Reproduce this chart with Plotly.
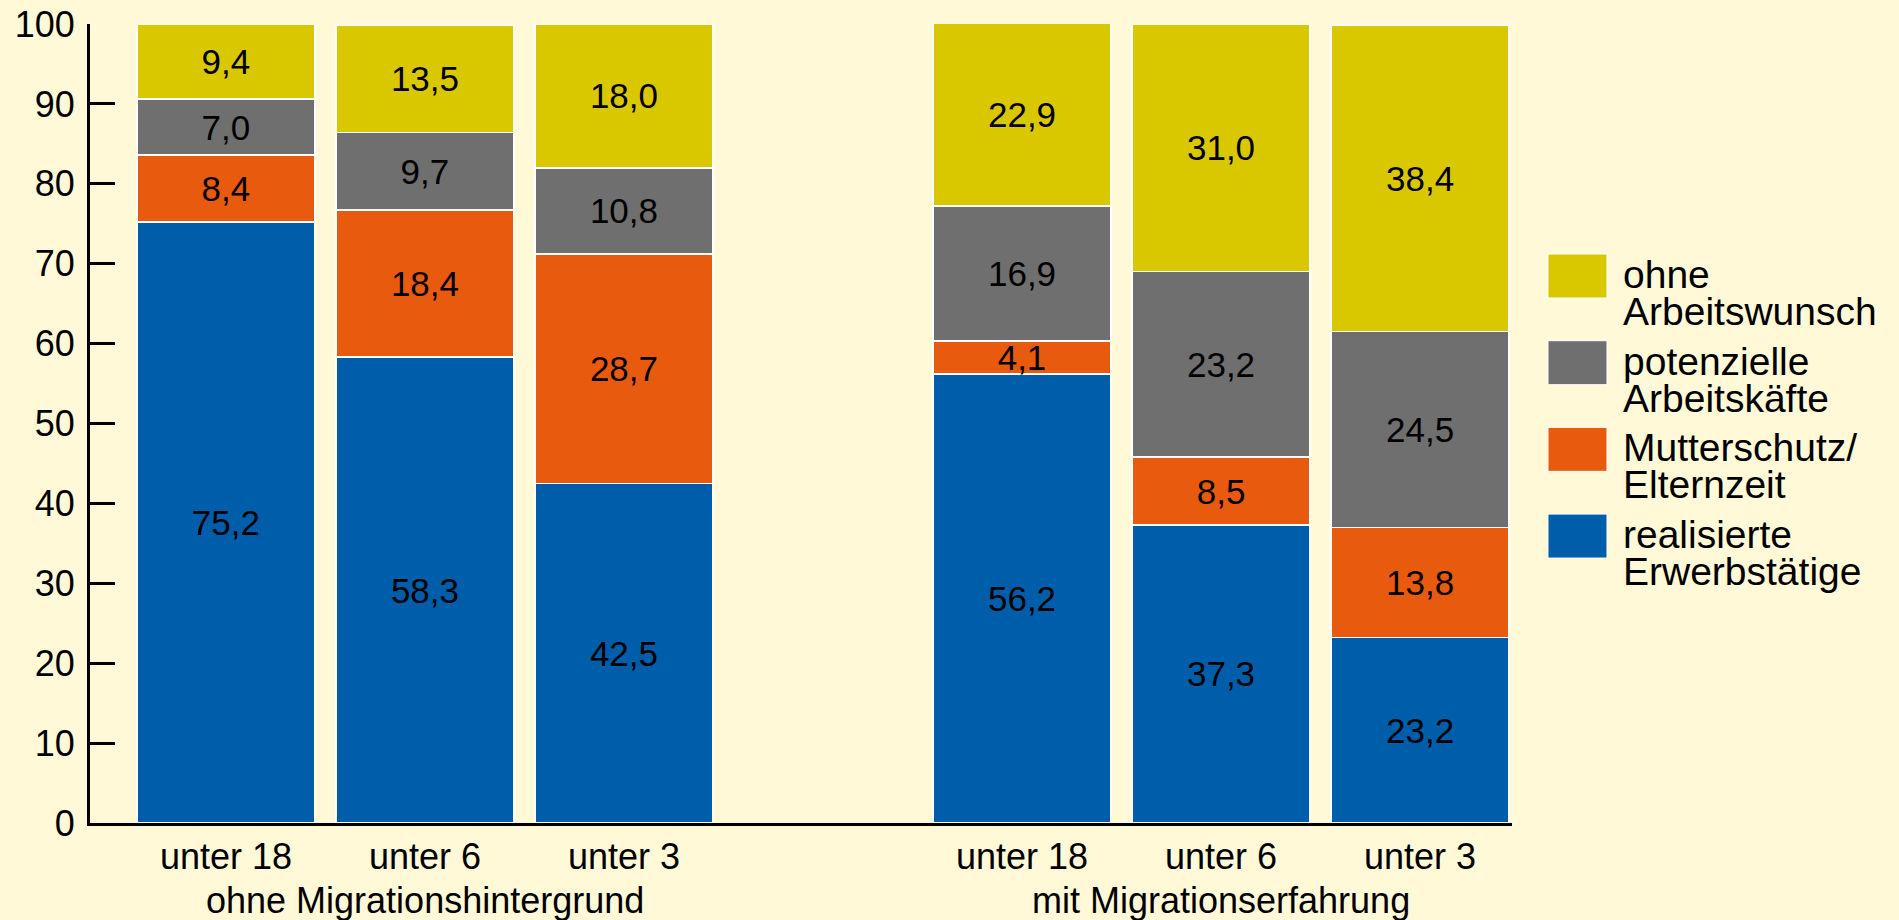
import plotly.graph_objects as go

# Anteile in Prozent (Mütter mit jüngstem Kind ...)
groups = ["ohne Migrationshintergrund", "mit Migrationserfahrung"]
ages = ["unter 18", "unter 6", "unter 3"]

erwerbstaetige = [75.2, 58.3, 42.5, 56.2, 37.3, 23.2]
mutterschutz = [8.4, 18.4, 28.7, 4.1, 8.5, 13.8]
potenzielle = [7.0, 9.7, 10.8, 16.9, 23.2, 24.5]
ohne_wunsch = [9.4, 13.5, 18.0, 22.9, 31.0, 38.4]

legend_names = [
    ["realisierte", "Erwerbstätige"],
    ["Mutterschutz/", "Elternzeit"],
    ["potenzielle", "Arbeitskäfte"],
    ["ohne", "Arbeitswunsch"],
]
colors = ["#005da9", "#e85b0e", "#6f6f6f", "#d9c800"]

FONT = "Liberation Sans, Arial, sans-serif"
BG = "#fff9d8"

# bar slots: three per group, one empty slot between groups
xs = []
ticktext = []
for g, group in enumerate(groups):
    for a, age in enumerate(ages):
        xs.append(g * 4 + a)
        ticktext.append(age)

fig = go.Figure()
for vals, names, col in zip([erwerbstaetige, mutterschutz, potenzielle, ohne_wunsch],
                            legend_names, colors):
    fig.add_trace(go.Bar(
        x=xs, y=vals, name=" ".join(names),
        marker=dict(color=col, line=dict(color="white", width=1.5)),
        texttemplate="%{y:.1f}", textposition="inside",
        insidetextanchor="middle", constraintext="none",
        textfont=dict(family=FONT, size=35, color="black"),
        width=0.894, showlegend=False,
    ))

annotations = []
# group labels under the middle bar of each group
for g, group in enumerate(groups):
    annotations.append(dict(xref="x", yref="paper", x=g * 4 + 1, y=-0.097,
                            xanchor="center", yanchor="middle", text=group,
                            showarrow=False, font=dict(family=FONT, size=36)))

# hand-made legend (large swatches, tight two-line labels)
shapes = []
for k, (names, col) in enumerate(reversed(list(zip(legend_names, colors)))):
    top = 0.7121 - k * 0.1085
    shapes.append(dict(type="rect", xref="paper", yref="paper",
                       x0=1.0253, x1=1.0668, y0=top - 0.055, y1=top,
                       fillcolor=col, line=dict(color="white", width=1)))
    for j, line in enumerate(names):
        annotations.append(dict(xref="paper", yref="paper", x=1.0767,
                                y=top - 0.0255 - j * 0.0463,
                                xanchor="left", yanchor="middle",
                                text=line, showarrow=False,
                                font=dict(family=FONT, size=39, color="black")))

fig.update_layout(
    width=1899, height=920,
    margin=dict(l=90, r=387, t=24, b=97),
    barmode="stack",
    paper_bgcolor=BG, plot_bgcolor=BG,
    separators=",.",
    font=dict(family=FONT, color="black"),
    shapes=shapes, annotations=annotations,
)
fig.update_xaxes(
    range=[-0.683, 6.462], tickvals=xs, ticktext=ticktext, tickangle=0,
    showline=True, linecolor="black", linewidth=3, automargin=False,
    showgrid=False, zeroline=False, ticks="",
    tickfont=dict(family=FONT, size=36),
)
fig.update_yaxes(
    range=[0, 100], dtick=10, automargin=False,
    showline=True, linecolor="black", linewidth=3,
    ticks="inside", ticklen=25, tickwidth=3, tickcolor="black",
    showgrid=False, zeroline=False, ticklabelstandoff=5,
    tickfont=dict(family=FONT, size=36),
)

# no page margin around the figure, no modebar
fig.write_html("out.html", config={"displayModeBar": False},
               post_script="document.body.style.margin='0';")
